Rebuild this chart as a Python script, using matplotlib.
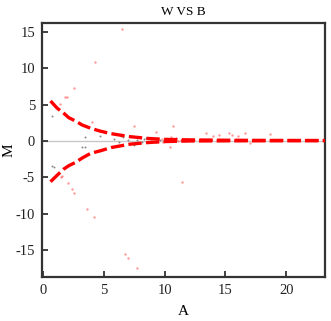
import numpy as np
import matplotlib
matplotlib.use("Agg")
import matplotlib.pyplot as plt

# fitted curves
fit_A = [0.6, 1.15, 1.7, 2.1, 2.65, 3.2, 3.9, 4.7, 5.6, 7.1, 8.6, 10.0, 12.0, 15.0, 18.0, 21.0, 23.2]
fit_upper = [5.5, 4.5, 3.8, 3.2, 2.75, 2.2, 1.75, 1.35, 1.0, 0.6, 0.35, 0.22, 0.15, 0.1, 0.08, 0.07, 0.06]
fit_lower = [-5.6, -4.7, -3.85, -3.4, -2.95, -2.35, -1.7, -1.35, -0.9, -0.45, -0.22, -0.08, 0.0, 0.02, 0.03, 0.04, 0.05]

# outlying red points
red_A = [6.5, 4.26, 2.5, 1.95, 1.4, 1.8, 4.0, 7.5, 10.7, 9.3, 13.4, 14.0, 14.5, 15.3, 15.5,
         16.0, 16.6, 18.7, 10.5, 10.4, 17.05, 1.5, 2.07, 2.35, 2.5, 3.6, 4.2, 11.45, 6.7,
         6.97, 7.7, 1.56, 9.8, 10.2, 10.9, 11.3, 11.8, 12.4, 9.9, 10.6, 11.1, 12.0]
red_M = [15.4, 10.9, 7.3, 6.1, 5.1, 6.0, 2.6, 2.0, 2.1, 1.3, 1.05, 0.7, 0.8, 1.15, 0.8,
         0.7, 1.05, 1.0, 0.6, -0.8, -0.3, -5.0, -5.8, -6.6, -7.1, -9.3, -10.5, -5.7, -15.5,
         -16.1, -17.5, -4.85, 0.3, 0.25, 0.35, 0.2, 0.3, 0.15, -0.1, -0.05, 0.0, 0.1]

# grey points
gray_A = [0.7, 0.7, 0.87, 3.2, 3.4, 3.4, 4.7, 5.8, 6.2, 6.4, 6.6, 7.0, 7.3, 7.5, 7.7,
          8.1, 8.3, 8.5, 8.9, 9.3, 9.6]
gray_M = [3.5, -3.5, -3.6, -0.8, -0.85, 0.6, 0.7, 0.3, -0.2, 0.7, 0.5, 0.1, -0.3, -0.5, 0.2,
          -0.1, 0.3, 0.4, 0.0, -0.2, 0.1]

x_ticks = [0, 5, 10, 15, 20]
y_ticks = [-15, -10, -5, 0, 5, 10, 15]

plt.rcParams['font.family'] = ['Liberation Serif', 'DejaVu Serif']
plt.rcParams['axes.unicode_minus'] = False

fig = plt.figure(figsize=(3.31, 3.21), dpi=100)
ax = fig.add_axes([0.127, 0.137, 0.855, 0.791])

ax.axhline(0, color='#c8c8c8', linewidth=1.0, zorder=1)
ax.scatter(gray_A, gray_M, s=2, color='#888888', linewidths=0, zorder=2)
ax.scatter(red_A, red_M, s=3, color='red', alpha=0.4, linewidths=0, zorder=2)
ax.plot(fit_A, fit_upper, color='red', linewidth=2.4, dashes=(4, 1.3), zorder=3)
ax.plot(fit_A, fit_lower, color='red', linewidth=2.4, dashes=(4, 1.3), zorder=3)

ax.set_xlim(-0.1, 23.2)
ax.set_ylim(-18.7, 16.2)
ax.set_xticks(x_ticks)
ax.set_yticks(y_ticks)
ax.tick_params(direction='in', length=4, width=1.3, labelsize=10.5, colors='#333333',
               labelcolor='#222222', top=False, right=False, pad=5)
for sp in ax.spines.values():
    sp.set_linewidth(1.6)
    sp.set_color('#333333')

ax.set_title('W VS B', fontsize=9.5, pad=6)
ax.set_xlabel('A', fontsize=11, labelpad=6)
ax.set_ylabel('M', fontsize=11)
ax.yaxis.set_label_coords(-0.095, 0.5)

fig.savefig('out.png', dpi=100)
